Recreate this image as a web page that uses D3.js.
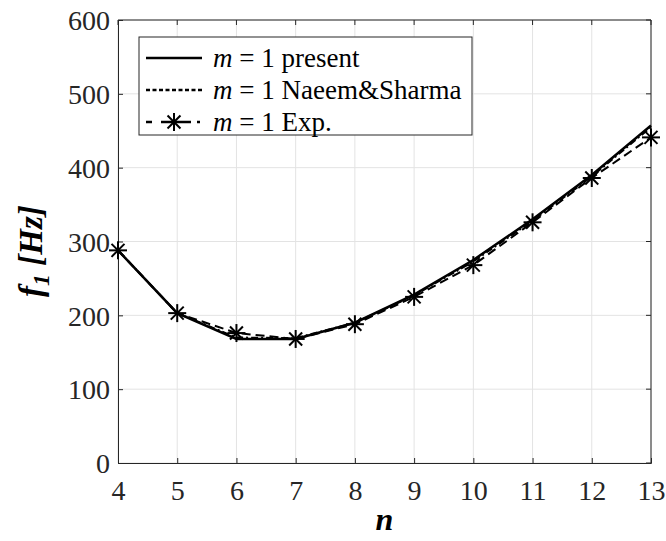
<!DOCTYPE html>
<html><head><meta charset="utf-8">
<script src="https://cdn.jsdelivr.net/npm/d3@7"></script>
<style>body{margin:0;background:#fff}svg{display:block}svg text{font-family:'Liberation Serif','Tinos','DejaVu Serif',serif !important}</style>
</head><body><svg id="c" width="666" height="541"></svg>
<script>
const nVals = [4,5,6,7,8,9,10,11,12,13];
const present = [288,203,168,168,190,228,275,330,390,457];
const naeem = [288,203,170,169,190,227,273,328,388,455];
const exp = [288,203,176,168,188,225,268,326,386,441];
const xTicks = [4,5,6,7,8,9,10,11,12,13];
const yTicks = [0,100,200,300,400,500,600];

const svg = d3.select("#c");
const L=118,R=651,T=20,B=463;
const x = d3.scaleLinear().domain([4,13]).range([L,R]);
const y = d3.scaleLinear().domain([0,600]).range([B,T]);

const g = svg.append("g");
g.selectAll(".gx").data(xTicks).enter().append("line")
 .attr("x1",d=>x(d)).attr("x2",d=>x(d)).attr("y1",T).attr("y2",B)
 .attr("stroke","#e3e3e3").attr("stroke-width",1);
g.selectAll(".gy").data(yTicks).enter().append("line")
 .attr("y1",d=>y(d)).attr("y2",d=>y(d)).attr("x1",L).attr("x2",R)
 .attr("stroke","#e3e3e3").attr("stroke-width",1);

const ax = svg.append("g").attr("transform",`translate(0,${B})`)
 .call(d3.axisBottom(x).tickValues(xTicks).tickSize(-5).tickPadding(17).tickFormat(d3.format("d")));
const ay = svg.append("g").attr("transform",`translate(${L},0)`)
 .call(d3.axisLeft(y).tickValues(yTicks).tickSize(-5).tickPadding(8));
[ax,ay].forEach(a=>{
 a.attr("font-family",null);
 a.selectAll("path").attr("stroke","#262626");
 a.selectAll("line").attr("stroke","#262626");
 a.selectAll("text").attr("font-size",28).attr("fill","#262626");
});
ax.selectAll("text").attr("dy","0.71em");
ay.selectAll("text").attr("dy","0.35em");
svg.append("line").attr("x1",L).attr("x2",R).attr("y1",T).attr("y2",T).attr("stroke","#262626");
svg.append("line").attr("x1",R).attr("x2",R).attr("y1",T).attr("y2",B).attr("stroke","#262626");
svg.selectAll(".rt").data(yTicks).enter().append("line")
 .attr("x1",R).attr("x2",R-5).attr("y1",d=>y(d)).attr("y2",d=>y(d)).attr("stroke","#262626");
svg.selectAll(".tt").data(xTicks).enter().append("line")
 .attr("y1",T).attr("y2",T+5).attr("x1",d=>x(d)).attr("x2",d=>x(d)).attr("stroke","#262626");

const line = d3.line().x((d,i)=>x(nVals[i])).y(d=>y(d));
svg.append("path").attr("d",line(naeem)).attr("fill","none").attr("stroke","#000").attr("stroke-width",2).attr("stroke-dasharray","7,3,2,3");
svg.append("path").attr("d",line(exp)).attr("fill","none").attr("stroke","#000").attr("stroke-width",2).attr("stroke-dasharray","9,5");
svg.append("path").attr("d",line(present)).attr("fill","none").attr("stroke","#000").attr("stroke-width",2.5);

function star(sel,cx,cy,r){
 const s=sel.append("g").attr("transform",`translate(${cx},${cy})`);
 const a=r*0.72;
 [[0,-r,0,r],[-r,0,r,0],[-a,-a,a,a],[-a,a,a,-a]].forEach(p=>{
  s.append("line").attr("x1",p[0]).attr("y1",p[1]).attr("x2",p[2]).attr("y2",p[3]).attr("stroke","#000").attr("stroke-width",2);
 });
}
exp.forEach((v,i)=>star(svg,x(nVals[i]),y(v),9));

const lg = svg.append("g");
lg.append("rect").attr("x",139).attr("y",37).attr("width",333).attr("height",98)
 .attr("fill","#fff").attr("stroke","#262626").attr("stroke-width",1);
const items=[{t:" = 1 present",dash:null},{t:" = 1 Naeem&Sharma",dash:"4,2.5"},{t:" = 1 Exp.",dash:"6,9,30,6,3,20",mk:true}];
items.forEach((it,i)=>{
 const yy=58+i*32;
 lg.append("line").attr("x1",146).attr("x2",202).attr("y1",yy).attr("y2",yy).attr("stroke","#000").attr("stroke-width",2.5)
  .attr("stroke-dasharray",it.dash);
 if(it.mk) star(lg,174,yy,9);
 const tx=lg.append("text").attr("x",213).attr("y",yy).attr("dy","0.35em").attr("font-size",27).attr("fill","#000");
 tx.append("tspan").attr("font-style","italic").text("m");
 tx.append("tspan").text(it.t);
});

svg.append("text").attr("x",x(8.5)).attr("y",530).attr("text-anchor","middle")
 .attr("font-size",32).attr("font-weight","bold").attr("font-style","italic").text("n");
const yl=svg.append("text").attr("transform",`translate(42,251) rotate(-90)`).attr("text-anchor","middle")
 .attr("font-size",33).attr("font-weight","bold").attr("font-style","italic");
yl.append("tspan").text("f");
yl.append("tspan").attr("font-size",24).attr("dy",7).text("1");
yl.append("tspan").attr("dy",-7).text(" [Hz]");
</script></body></html>
